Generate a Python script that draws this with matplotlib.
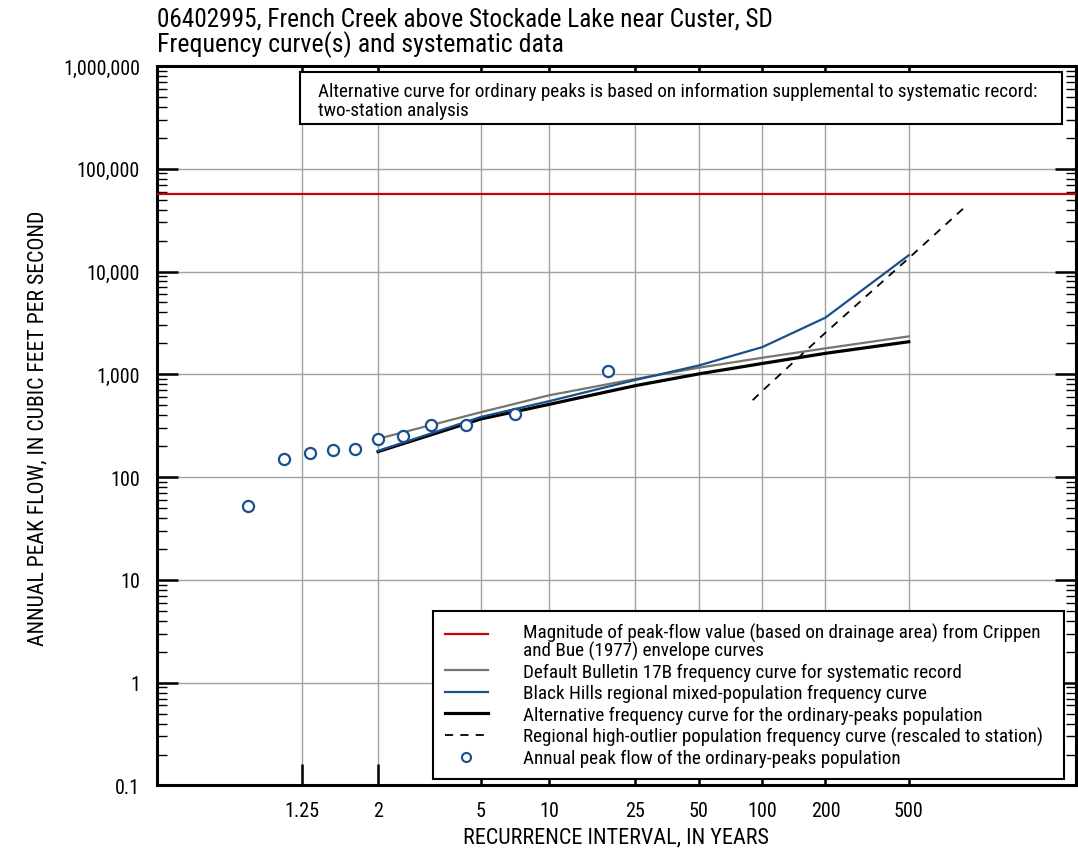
import numpy as np
import matplotlib
matplotlib.use("Agg")
import matplotlib.pyplot as plt
from matplotlib import font_manager as fm
from matplotlib.lines import Line2D
from matplotlib.patches import Rectangle
from matplotlib.ticker import FixedLocator, FixedFormatter, LogLocator, NullFormatter

# ---------------- data ----------------
title_lines = ["06402995, French Creek above Stockade Lake near Custer, SD",
               "Frequency curve(s) and systematic data"]
x_label = "RECURRENCE INTERVAL, IN YEARS"
y_label = "ANNUAL PEAK FLOW, IN CUBIC FEET PER SECOND"
note_text = ("Alternative curve for ordinary peaks is based on information supplemental to systematic record:\n"
             "two-station analysis")

x_tick_values = [1.25, 2, 5, 10, 25, 50, 100, 200, 500]
x_tick_labels = ["1.25", "2", "5", "10", "25", "50", "100", "200", "500"]
y_tick_values = [0.1, 1, 10, 100, 1e3, 1e4, 1e5, 1e6]
y_tick_labels = ["0.1", "1", "10", "100", "1,000", "10,000", "100,000", "1,000,000"]

curve_ri = [2, 5, 10, 25, 50, 100, 200, 500]
bulletin17b_flow = [236, 428, 625, 900, 1160, 1450, 1790, 2340]
black_hills_flow = [180, 385, 548, 880, 1220, 1840, 3560, 14400]
alternative_flow = [177, 368, 510, 775, 1010, 1275, 1600, 2075]

high_outlier_ri = [90, 100, 200, 500, 930]
high_outlier_flow = [560, 690, 2540, 13500, 42600]

envelope_flow = 56700

peak_ri = [1.057, 1.167, 1.302, 1.473, 1.696, 2.0, 2.435, 3.11, 4.31, 7.0, 18.67]
peak_flow = [52.6, 150, 173, 184, 186, 235, 249, 319, 320, 412, 1070]

legend_labels = [
    "Magnitude of peak-flow value (based on drainage area) from Crippen\nand Bue (1977) envelope curves",
    "Default Bulletin 17B frequency curve for systematic record",
    "Black Hills regional mixed-population frequency curve",
    "Alternative frequency curve for the ordinary-peaks population",
    "Regional high-outlier population frequency curve (rescaled to station)",
    "Annual peak flow of the ordinary-peaks population",
]

# ---------------- font choice (narrow sans) ----------------
_names = {f.name for f in fm.fontManager.ttflist}
if 'Roboto Condensed' in _names:
    plt.rcParams['font.family'] = ['Roboto Condensed', 'DejaVu Sans']
elif 'Liberation Sans Narrow' in _names:
    plt.rcParams['font.family'] = ['Liberation Sans Narrow', 'DejaVu Sans']
else:
    plt.rcParams['font.family'] = ['Roboto', 'DejaVu Sans']

RED = '#cc0000'
GRAY = '#76756f'
BLUE = '#1a4f8c'
GRID = '#a3a29b'

TICK_FS = 14.5
BOX_FS = 13.8


def gumbel_fwd(T):
    T = np.asarray(T, dtype=float)
    with np.errstate(all='ignore'):
        T = np.clip(T, 1.0 + 1e-12, None)
        return -np.log(-np.log1p(-1.0 / T))


def gumbel_inv(y):
    y = np.asarray(y, dtype=float)
    with np.errstate(all='ignore'):
        return 1.0 / (-np.expm1(-np.exp(-y)))


fig = plt.figure(figsize=(10.78, 8.53), dpi=100)
ax = fig.add_axes([0.1454, 0.078, 0.8523, 0.8435])
ax.set_xscale('function', functions=(gumbel_fwd, gumbel_inv))
ax.set_yscale('log')
ax.set_xlim(float(gumbel_inv(-2.072)), float(gumbel_inv(8.051)))
ax.set_ylim(0.1, 1e6)

ax.xaxis.set_major_locator(FixedLocator(x_tick_values))
ax.xaxis.set_major_formatter(FixedFormatter(x_tick_labels))
ax.xaxis.set_minor_locator(FixedLocator([]))
ax.yaxis.set_major_locator(FixedLocator(y_tick_values))
ax.yaxis.set_major_formatter(FixedFormatter(y_tick_labels))
ax.yaxis.set_minor_locator(LogLocator(base=10, subs=np.arange(2, 10), numticks=50))
ax.yaxis.set_minor_formatter(NullFormatter())
ax.grid(True, which='major', color=GRID, linewidth=1.0)

ax.tick_params(axis='x', which='major', direction='in', length=15, width=1.8,
               top=True, bottom=True, labelsize=TICK_FS, pad=11, color='black')
ax.tick_params(axis='y', which='major', direction='in', length=15, width=1.8,
               left=True, right=True, labelsize=TICK_FS, pad=12)
ax.tick_params(axis='y', which='minor', direction='in', length=7, width=1.0,
               left=True, right=True)
for s in ax.spines.values():
    s.set_linewidth(2.2)

ax.axhline(envelope_flow, color=RED, lw=1.6, zorder=2.6)
ax.plot(curve_ri, bulletin17b_flow, color=GRAY, lw=1.6, zorder=2.7)
ax.plot(curve_ri, alternative_flow, color='black', lw=2.3, zorder=2.8)
ax.plot(curve_ri, black_hills_flow, color=BLUE, lw=1.6, zorder=2.9)
ax.plot(high_outlier_ri, high_outlier_flow, color='black', lw=1.3,
        linestyle=(0, (4.5, 4)), zorder=2.95)
ax.plot(peak_ri, peak_flow, linestyle='none', marker='o', markersize=8,
        markerfacecolor='white', markeredgecolor=BLUE, markeredgewidth=1.6, zorder=3)

ax.add_patch(Rectangle((0.156, 0.9194), 0.8293, 0.0723, transform=ax.transAxes,
                       facecolor='white', edgecolor='black', lw=1.5, zorder=4))
ax.text(0.1755, 0.9775, note_text, transform=ax.transAxes, ha='left', va='top',
        fontsize=BOX_FS, linespacing=1.02, zorder=5)

handles = [
    Line2D([], [], color=RED, lw=1.6),
    Line2D([], [], color=GRAY, lw=1.6),
    Line2D([], [], color=BLUE, lw=1.6),
    Line2D([], [], color='black', lw=2.3),
    Line2D([], [], color='black', lw=1.3, linestyle=(0, (4.5, 4))),
    Line2D([], [], linestyle='none', marker='o', markersize=6.5, markerfacecolor='white',
           markeredgecolor=BLUE, markeredgewidth=1.5),
]
leg = ax.legend(handles, legend_labels, loc='lower left',
                bbox_to_anchor=(0.3007, 0.009, 0.6868, 0.3), mode='expand',
                borderaxespad=0, fontsize=BOX_FS, frameon=True, fancybox=False, framealpha=1,
                edgecolor='black', handlelength=2.25, handletextpad=1.83, labelspacing=0.17,
                borderpad=0.6)
for t in leg.get_texts():
    t.set_linespacing(0.9)
leg.get_frame().set_linewidth(1.5)
leg.set_zorder(6)
# align the envelope-curve handle with the first line of its two-line label
_h0 = leg.legend_handles[0]
_h0.set_ydata(np.asarray(_h0.get_ydata(), dtype=float) + 5.5)

fig.text(0.1455, 1 - 26.5 / 853, title_lines[0], ha='left', va='baseline', fontsize=18.2)
fig.text(0.1455, 1 - 52 / 853, title_lines[1], ha='left', va='baseline', fontsize=18.6)
fig.text(0.5714, 1 - 838 / 853, x_label, ha='center', va='center', fontsize=15.9)
fig.text(38 / 1078, 1 - 428 / 853, y_label, ha='center', va='center', rotation=90, fontsize=15.7)

fig.savefig("out.png", dpi=100)
